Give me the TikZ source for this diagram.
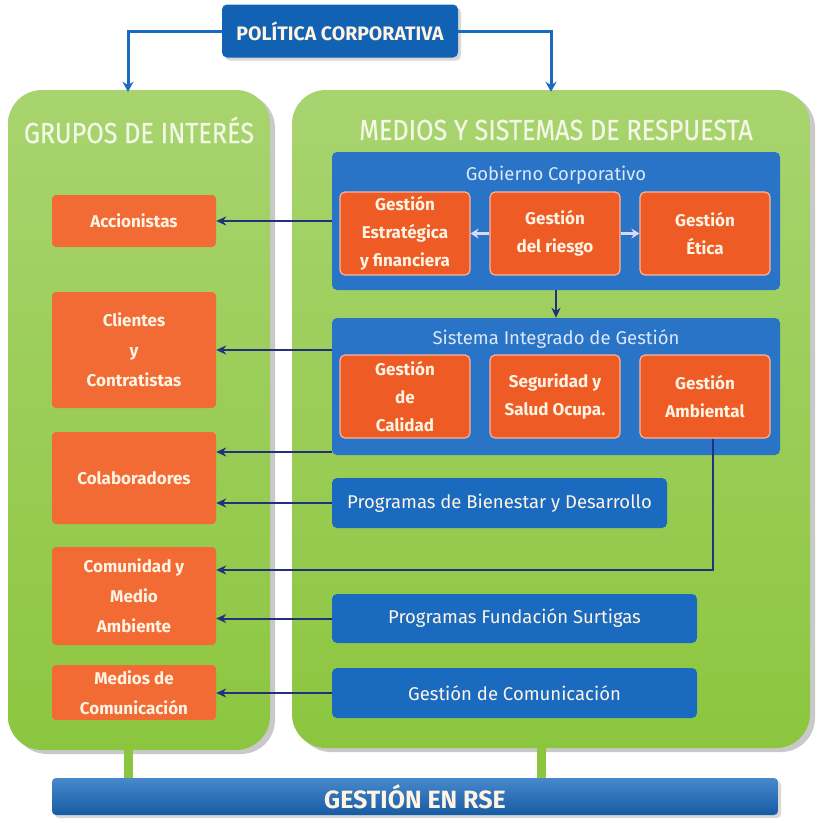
\documentclass[tikz,border=0pt]{standalone}
\usepackage{fontspec}
\setmainfont{Fira Sans}
\newfontfamily\ttlfont[FakeBold=0.5]{Fira Sans}
\usetikzlibrary{arrows.meta,shadows,calc}
\definecolor{gr}{HTML}{8CC63F}
\definecolor{grtop}{HTML}{A8D46F}
\definecolor{orl}{HTML}{F26B35}
\definecolor{orr}{HTML}{EF5B25}
\definecolor{bl}{HTML}{1A6BC0}
\definecolor{blc}{HTML}{2A74C7}
\definecolor{bltop}{HTML}{1262B3}
\definecolor{navy}{HTML}{24307A}
\definecolor{txt}{HTML}{FFF4E4}
\definecolor{ttl}{HTML}{F2F7E6}
\definecolor{subt}{HTML}{DCE8F6}
\begin{document}
\begin{tikzpicture}[x=1pt,y=-1pt,
  panel/.style={rounded corners=34pt, top color=grtop, bottom color=gr, draw=none,
    drop shadow={shadow xshift=5pt,shadow yshift=-4pt,opacity=0.35,fill=black!60}},
  lbox/.style={fill=orl, rounded corners=4pt, text=txt, align=center,
    font=\bfseries\fontsize{17}{30}\selectfont, inner sep=0pt},
  rbox/.style={fill=orr, draw=orr!45!white, line width=1.2pt, rounded corners=5pt, text=txt, align=center,
    font=\bfseries\fontsize{17}{28}\selectfont, inner sep=0pt, minimum width=130pt, minimum height=83pt},
  cont/.style={fill=blc, rounded corners=5pt, minimum width=448pt},
  bbox/.style={fill=bl, rounded corners=5pt, text=txt, font=\fontsize{18.5}{20}\selectfont, inner sep=0pt},
  arr/.style={navy, line width=2pt, -{Stealth[length=10pt,width=9pt]}},
  tarr/.style={bl, line width=3pt, -{Stealth[length=10pt,width=11pt]}},
  warr/.style={white!85!blue, line width=2.5pt, -{Stealth[length=8pt,width=10pt]}},
  title/.style={text=ttl, font=\ttlfont\fontsize{29}{32}\selectfont}
]
\useasboundingbox[fill=white] (0,0) rectangle (820,823);
% panels
\node[panel, minimum width=262pt, minimum height=660pt] (lp) at (139,420) {};
\node[panel, minimum width=518pt, minimum height=658pt] (rp) at (551,419) {};
\node[title] (lpt) at (139,130) {\scalebox{0.87}[1]{GRUPOS DE INTERÉS}};
\node[title] (rpt) at (556,130) {\scalebox{0.87}[1]{MEDIOS Y SISTEMAS DE RESPUESTA}};
% bottom bar
\node[top color=bl!80!white, bottom color=bl!85!black, rounded corners=4pt, minimum width=726pt, minimum height=37pt,
  text=txt, font=\bfseries\fontsize{25}{26}\selectfont,
  drop shadow={shadow xshift=3pt,shadow yshift=-3pt,opacity=0.3}] (rse) at (415,796.5) {GESTIÓN EN RSE};
\draw[gr, line width=9pt] (lp.south -| 128,0) -- (rse.north -| 128,0);
\draw[gr, line width=9pt] (rp.south -| 541,0) -- (rse.north -| 541,0);
% top box
\node[fill=bltop, rounded corners=5pt, minimum width=236pt, minimum height=53pt, text=txt,
  font=\bfseries\fontsize{19.5}{20}\selectfont,
  drop shadow={shadow xshift=3pt,shadow yshift=-3pt,opacity=0.3}] (pol) at (340,31) {POLÍTICA CORPORATIVA};
\draw[tarr] (pol.west) -| ([xshift=-11pt,yshift=-2pt]lp.north);
\draw[tarr] (pol.east) -| ([yshift=-2pt]rp.north);
% left boxes
\node[lbox, minimum width=164pt, minimum height=52pt] (acc) at (134,221) {Accionistas};
\node[lbox, minimum width=164pt, minimum height=116pt] (cli) at (134,350) {Clientes\\y\\Contratistas};
\node[lbox, minimum width=164pt, minimum height=92pt] (col) at (134,478) {Colaboradores};
\node[lbox, minimum width=164pt, minimum height=98pt] (com) at (134,596) {Comunidad y\\Medio\\Ambiente};
\node[lbox, minimum width=164pt, minimum height=55pt] (med) at (134,692.5) {Medios de\\Comunicación};
% Gobierno
\node[cont, minimum height=138pt] (gob) at (556,221) {};
\node[text=subt, font=\fontsize{18.5}{20}\selectfont] (gobt) at (556,175) {Gobierno Corporativo};
\node[rbox] (g1) at (405,233.5) {Gestión\\Estratégica\\y financiera};
\node[rbox] (g2) at (555,233.5) {Gestión\\del riesgo};
\node[rbox] (g3) at (705,233.5) {Gestión\\Ética};
\draw[warr] (g2.west) -- (g1.east);
\draw[warr] (g2.east) -- (g3.west);
% Sistema
\node[cont, minimum height=137pt] (sis) at (556,386.5) {};
\node[text=subt, font=\fontsize{18.5}{20}\selectfont] (sist) at (556,339) {Sistema Integrado de Gestión};
\node[rbox] (cal) at (405,396.5) {Gestión\\de\\Calidad};
\node[rbox] (seg) at (555,396.5) {Seguridad y\\Salud Ocupa.};
\node[rbox] (amb) at (705,396.5) {Gestión\\Ambiental};
\draw[arr] (gob.south) -- (sis.north);
% programs
\node[bbox, minimum width=335pt, minimum height=50pt] (bien) at (499.5,503) {Programas de Bienestar y Desarrollo};
\node[bbox, minimum width=365pt, minimum height=49pt] (fun) at (514.5,618.5) {Programas Fundación Surtigas};
\node[bbox, minimum width=365pt, minimum height=50pt] (comu) at (514.5,693) {Gestión de Comunicación};
% connectors
\coordinate (c1) at (332,452);
\coordinate (c2) at (713,570);
\draw[arr] (gob.west |- acc.east) -- (acc.east);
\draw[arr] (sis.west |- cli.east) -- (cli.east);
\draw[arr] (c1) -- (c1 -| col.east);
\draw[arr] (bien.west) -- (bien.west -| col.east);
\draw[arr] (amb.south -| c2) |- (c2 -| com.east);
\draw[arr] (fun.west) -- (fun.west -| com.east);
\draw[arr] (comu.west) -- (comu.west -| med.east);
\end{tikzpicture}
\end{document}
